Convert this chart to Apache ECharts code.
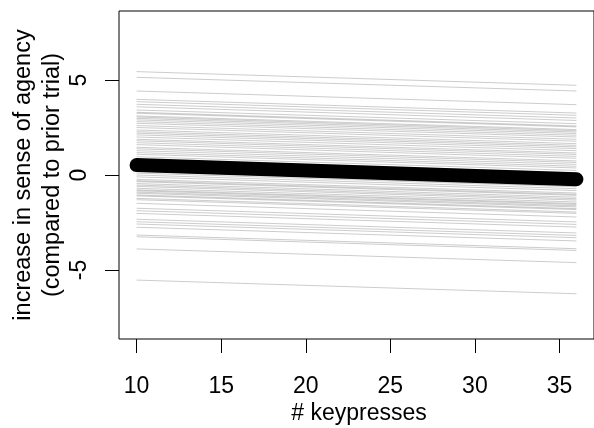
<!DOCTYPE html>
<html>
<head>
<meta charset="utf-8">
<script src="https://cdn.jsdelivr.net/npm/echarts@6/dist/echarts.min.js"></script>
<style>
  html, body { margin: 0; padding: 0; background: #fff; }
  #chart { width: 594px; height: 428px; }
</style>
</head>
<body>
<div id="chart"></div>
<script>
// Per-participant fitted lines: value at 10 and at 36 keypresses
const xStart = 10;
const xEnd = 36;
const startValues = [
  5.44, 5.14, 4.42, 3.98, 3.86, 3.72, 3.59, 3.42, 3.30, 3.25,
  3.11, 3.05, 2.98, 2.90, 2.81, 2.72, 2.60, 2.50, 2.37, 2.28,
  2.20, 2.11, 2.00, 1.88, 1.80, 1.70, 1.60, 1.46, 1.38, 1.28,
  1.18, 1.09, 0.96, 0.83, 0.72, 0.60, 0.50, 0.40, 0.30, 0.20,
  0.10, 0.00, -0.10, -0.23, -0.30, -0.35, -0.45, -0.53, -0.60, -0.70,
  -0.78, -0.83, -0.90, -0.96, -1.05, -1.10, -1.23, -1.30, -1.49, -1.75,
  -1.88, -2.02, -2.33, -2.46, -2.58, -2.75, -3.16, -3.25, -3.89, -5.53
];
const endValues = [
  4.72, 4.42, 3.70, 3.26, 3.14, 3.00, 2.87, 2.70, 2.58, 2.53,
  2.39, 2.33, 2.26, 2.18, 2.09, 2.00, 1.88, 1.78, 1.65, 1.56,
  1.48, 1.39, 1.28, 1.16, 1.08, 0.98, 0.88, 0.74, 0.66, 0.56,
  0.46, 0.37, 0.24, 0.11, 0.00, -0.12, -0.22, -0.32, -0.42, -0.52,
  -0.62, -0.72, -0.82, -0.95, -1.02, -1.07, -1.17, -1.25, -1.32, -1.42,
  -1.50, -1.55, -1.62, -1.68, -1.77, -1.82, -1.95, -2.02, -2.21, -2.47,
  -2.60, -2.74, -3.05, -3.18, -3.30, -3.47, -3.88, -3.97, -4.61, -6.25
];
// Population-level fit
const meanStart = 0.52;
const meanEnd = -0.22;

const xTicks = [10, 15, 20, 25, 30, 35];
const yTicks = [-5, 0, 5];

const FONT = 'Liberation Sans, Arial, Helvetica, sans-serif';

const series = startValues.map((s, i) => ({
  type: 'line',
  data: [[xStart, s], [xEnd, endValues[i]]],
  symbol: 'none',
  silent: true,
  lineStyle: { color: 'rgba(0,0,0,0.2)', width: 1 },
  z: 2
}));
series.push({
  type: 'line',
  data: [[xStart, meanStart], [xEnd, meanEnd]],
  symbol: 'none',
  silent: true,
  lineStyle: { color: '#000', width: 14, cap: 'round' },
  z: 5
});

const chart = echarts.init(document.getElementById('chart'), null, { renderer: 'canvas' });
chart.setOption({
  animation: false,
  backgroundColor: '#fff',
  grid: {
    left: 119, top: 11, right: -5, bottom: 89,
    show: true, borderColor: '#000', borderWidth: 1, backgroundColor: 'transparent'
  },
  xAxis: {
    type: 'value',
    min: 8.96, max: 37.04,
    splitLine: { show: false },
    axisLine: { show: false, onZero: false },
    axisTick: { show: true, customValues: xTicks, length: 14, lineStyle: { color: '#000', width: 1 } },
    axisLabel: { customValues: xTicks, color: '#000', fontFamily: FONT, fontSize: 23, margin: 36 }
  },
  yAxis: {
    type: 'value',
    min: -8.63, max: 8.63,
    splitLine: { show: false },
    axisLine: { show: false, onZero: false },
    axisTick: { show: true, customValues: yTicks, length: 14, lineStyle: { color: '#000', width: 1 } },
    axisLabel: { show: false }
  },
  series: series
});

// Y tick labels run parallel to the axis, placed at the axis' own tick positions
const yLabelX = 80;
const graphics = [
  {
    type: 'text', x: 359, y: 414,
    style: { text: '# keypresses', font: '23px ' + FONT, fill: '#000', align: 'center', verticalAlign: 'middle' }
  },
  {
    type: 'text', x: 24, y: 175, rotation: Math.PI / 2,
    style: { text: 'increase in sense of agency', font: '23.5px ' + FONT, fill: '#000', align: 'center', verticalAlign: 'middle' }
  },
  {
    type: 'text', x: 53, y: 175, rotation: Math.PI / 2,
    style: { text: '(compared to prior trial)', font: '23.5px ' + FONT, fill: '#000', align: 'center', verticalAlign: 'middle' }
  }
];
yTicks.forEach(v => {
  const py = chart.convertToPixel({ yAxisIndex: 0 }, v);
  graphics.push({
    type: 'text', x: yLabelX, y: py, rotation: Math.PI / 2,
    style: { text: String(v), font: '23px ' + FONT, fill: '#000', align: 'center', verticalAlign: 'middle' }
  });
});
chart.setOption({ graphic: graphics });
</script>
</body>
</html>
